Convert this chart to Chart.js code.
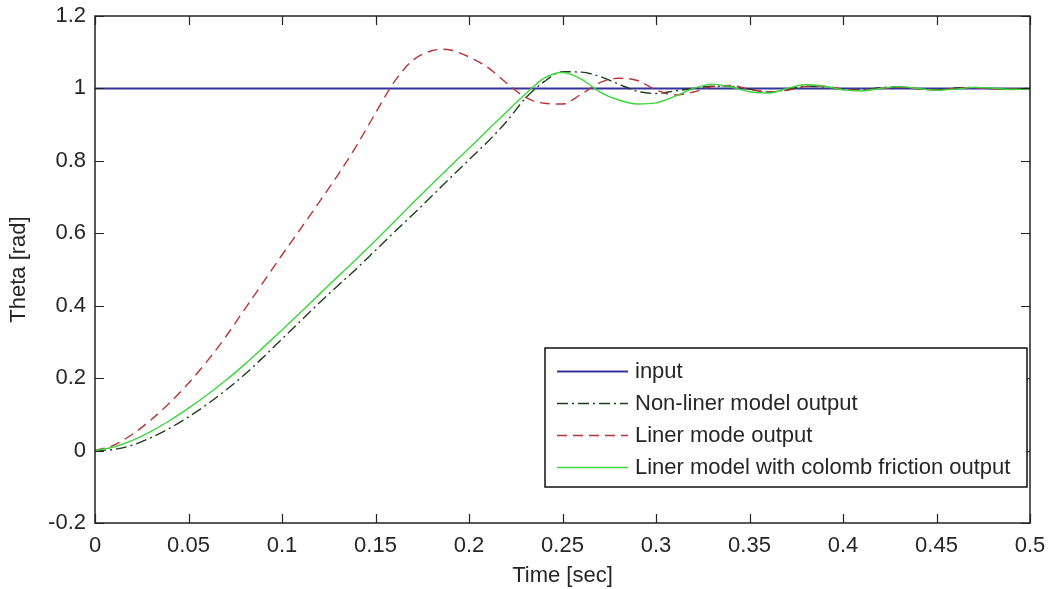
<!DOCTYPE html>
<html>
<head>
<meta charset="utf-8">
<script src="https://cdn.jsdelivr.net/npm/chart.js@4.4.0/dist/chart.umd.min.js"></script>
<style>
html,body{margin:0;padding:0;background:#fff;}
#wrap{width:1049px;height:589px;}
</style>
</head>
<body>
<div id="wrap"><canvas id="c" width="1049" height="589"></canvas></div>
<script>
// ---- data ----
const seriesNames = ['input', 'Non-liner model output', 'Liner mode output', 'Liner model with colomb friction output'];
const xTickLabels = ['0','0.05','0.1','0.15','0.2','0.25','0.3','0.35','0.4','0.45','0.5'];
const yTickLabels = ['-0.2','0','0.2','0.4','0.6','0.8','1','1.2'];

const tInput = [0, 0.5];
const vInput = [1, 1];

const tNonlin = [0,0.01,0.02,0.03,0.04,0.05,0.06,0.07,0.08,0.09,0.10,0.11,0.12,0.13,0.14,0.15,0.16,0.17,0.18,0.19,0.20,0.21,0.22,0.23,0.24,0.25,0.26,0.27,0.28,0.29,0.30,0.31,0.32,0.33,0.34,0.35,0.36,0.37,0.38,0.39,0.40,0.41,0.42,0.43,0.44,0.45,0.46,0.47,0.48,0.49,0.50];
const vNonlin = [0,0.003,0.015,0.036,0.062,0.093,0.128,0.167,0.21,0.258,0.308,0.358,0.408,0.456,0.503,0.553,0.603,0.652,0.702,0.753,0.803,0.853,0.908,0.972,1.018,1.046,1.045,1.033,1.012,0.992,0.986,0.993,1.0,1.006,1.005,0.998,0.99,0.996,1.006,1.004,0.997,0.996,1.002,1.004,0.999,0.996,1.001,1.003,0.999,0.998,1.0];

const tLin = [0,0.01,0.02,0.03,0.04,0.05,0.06,0.07,0.08,0.09,0.10,0.11,0.12,0.13,0.14,0.15,0.16,0.17,0.18,0.186,0.19,0.20,0.21,0.22,0.23,0.24,0.25,0.26,0.27,0.28,0.29,0.30,0.31,0.32,0.33,0.34,0.35,0.36,0.37,0.38,0.39,0.40,0.41,0.42,0.43,0.44,0.45,0.46,0.47,0.48,0.49,0.50];
const vLin = [0,0.015,0.045,0.085,0.132,0.186,0.247,0.315,0.39,0.465,0.54,0.613,0.687,0.762,0.843,0.932,1.018,1.078,1.104,1.108,1.106,1.087,1.058,1.015,0.976,0.959,0.957,0.984,1.016,1.028,1.022,0.996,0.982,0.99,1.005,1.008,0.998,0.99,0.995,1.005,1.006,0.998,0.995,1.0,1.003,0.999,0.996,1.0,1.002,0.999,0.998,1.0];

const tFric = [0,0.01,0.02,0.03,0.04,0.05,0.06,0.07,0.08,0.09,0.10,0.11,0.12,0.13,0.14,0.15,0.16,0.17,0.18,0.19,0.20,0.21,0.22,0.23,0.24,0.25,0.26,0.27,0.28,0.29,0.30,0.31,0.32,0.33,0.34,0.35,0.36,0.37,0.38,0.39,0.40,0.41,0.42,0.43,0.44,0.45,0.46,0.47,0.48,0.49,0.50];
const vFric = [0,0.01,0.028,0.053,0.083,0.117,0.154,0.194,0.238,0.285,0.333,0.382,0.432,0.481,0.53,0.58,0.632,0.684,0.735,0.785,0.835,0.885,0.935,0.984,1.028,1.044,1.026,0.99,0.968,0.957,0.96,0.978,1.0,1.012,1.004,0.991,0.987,1.0,1.01,1.006,0.996,0.993,1.0,1.005,1.0,0.995,0.998,1.003,1.001,0.997,0.999];

function pts(t, v){ return t.map((x,i)=>({x:x, y:v[i]})); }

const FONT = "'Liberation Sans', Arial, sans-serif";
const TXT = '#262626';

const styles = [
  {color:'#34349c', width:2, dash:[]},
  {color:'#1e3d1e', width:1.4, dash:[11,4,2,4]},
  {color:'#b8343a', width:1.4, dash:[10,6]},
  {color:'#3cd63c', width:1.4, dash:[]}
];

const datasets = [
  {label: seriesNames[0], data: pts(tInput, vInput), order:4},
  {label: seriesNames[1], data: pts(tNonlin, vNonlin), order:3},
  {label: seriesNames[2], data: pts(tLin, vLin), order:2},
  {label: seriesNames[3], data: pts(tFric, vFric), order:1}
].map((d,i)=>Object.assign(d,{
  borderColor: styles[i].color,
  borderWidth: styles[i].width,
  borderDash: styles[i].dash,
  pointRadius: 0,
  fill: false,
  cubicInterpolationMode: 'monotone'
}));

const boxPlugin = {
  id: 'box',
  afterDraw(chart){
    const ctx = chart.ctx, a = chart.chartArea;
    const xs = chart.scales.x, ys = chart.scales.y;
    ctx.save();
    ctx.strokeStyle = '#222';
    ctx.lineWidth = 1.5;
    ctx.setLineDash([]);
    ctx.strokeRect(a.left, a.top, a.right - a.left, a.bottom - a.top);
    const TL = 9;
    ctx.beginPath();
    xs.ticks.forEach(t=>{
      const px = Math.round(xs.getPixelForValue(t.value)) + 0.5;
      ctx.moveTo(px, a.bottom); ctx.lineTo(px, a.bottom - TL);
      ctx.moveTo(px, a.top); ctx.lineTo(px, a.top + TL);
    });
    ys.ticks.forEach(t=>{
      const py = Math.round(ys.getPixelForValue(t.value)) + 0.5;
      ctx.moveTo(a.left, py); ctx.lineTo(a.left + TL, py);
      ctx.moveTo(a.right, py); ctx.lineTo(a.right - TL, py);
    });
    ctx.lineWidth = 1.2;
    ctx.stroke();

    // legend
    const L = 545, R = 1027, T = 348, B = 487;
    ctx.fillStyle = '#fff';
    ctx.fillRect(L, T, R - L, B - T);
    ctx.lineWidth = 1.5;
    ctx.strokeStyle = '#111';
    ctx.strokeRect(L, T, R - L, B - T);
    const rows = [371, 403, 435, 467];
    ctx.font = '22px ' + FONT;
    ctx.textBaseline = 'middle';
    ctx.textAlign = 'left';
    chart.data.datasets.forEach((d,i)=>{
      const y = rows[i] + 0.5;
      ctx.beginPath();
      ctx.strokeStyle = d.borderColor;
      ctx.lineWidth = d.borderWidth;
      ctx.setLineDash(d.borderDash);
      ctx.moveTo(557, y); ctx.lineTo(628, y);
      ctx.stroke();
      ctx.setLineDash([]);
      ctx.fillStyle = TXT;
      ctx.fillText(d.label, 635, rows[i] + 1);
    });
    ctx.restore();
  }
};

new Chart(document.getElementById('c'), {
  type: 'line',
  data: { datasets },
  options: {
    responsive: false,
    animation: false,
    events: [],
    layout: { padding: { top: 16, right: 19, left: 0, bottom: 0 } },
    plugins: { legend: { display: false }, tooltip: { enabled: false } },
    scales: {
      x: {
        type: 'linear', min: 0, max: 0.5,
        afterFit(s){ s.height = 66; s.paddingLeft = 0; s.paddingRight = 0; },
        grid: { display: false, drawTicks: false },
        border: { display: false },
        ticks: { stepSize: 0.05, padding: 10, color: TXT, font: { size: 22, family: FONT },
          maxRotation: 0, autoSkip: false,
          callback: (v, i) => xTickLabels[i] },
        title: { display: true, text: 'Time [sec]', color: TXT, font: { size: 22, family: FONT }, padding: { top: 7, bottom: 0 } }
      },
      y: {
        type: 'linear', min: -0.2, max: 1.2,
        afterFit(s){ s.width = 95; s.paddingTop = 0; s.paddingBottom = 0; },
        grid: { display: false, drawTicks: false },
        border: { display: false },
        ticks: { stepSize: 0.2, padding: 9, color: TXT, font: { size: 22, family: FONT },
          autoSkip: false,
          callback: (v, i) => yTickLabels[i] },
        title: { display: true, text: 'Theta [rad]', color: TXT, font: { size: 22, family: FONT }, padding: { top: 6, bottom: 0 } }
      }
    }
  },
  plugins: [boxPlugin]
});
</script>
</body>
</html>
